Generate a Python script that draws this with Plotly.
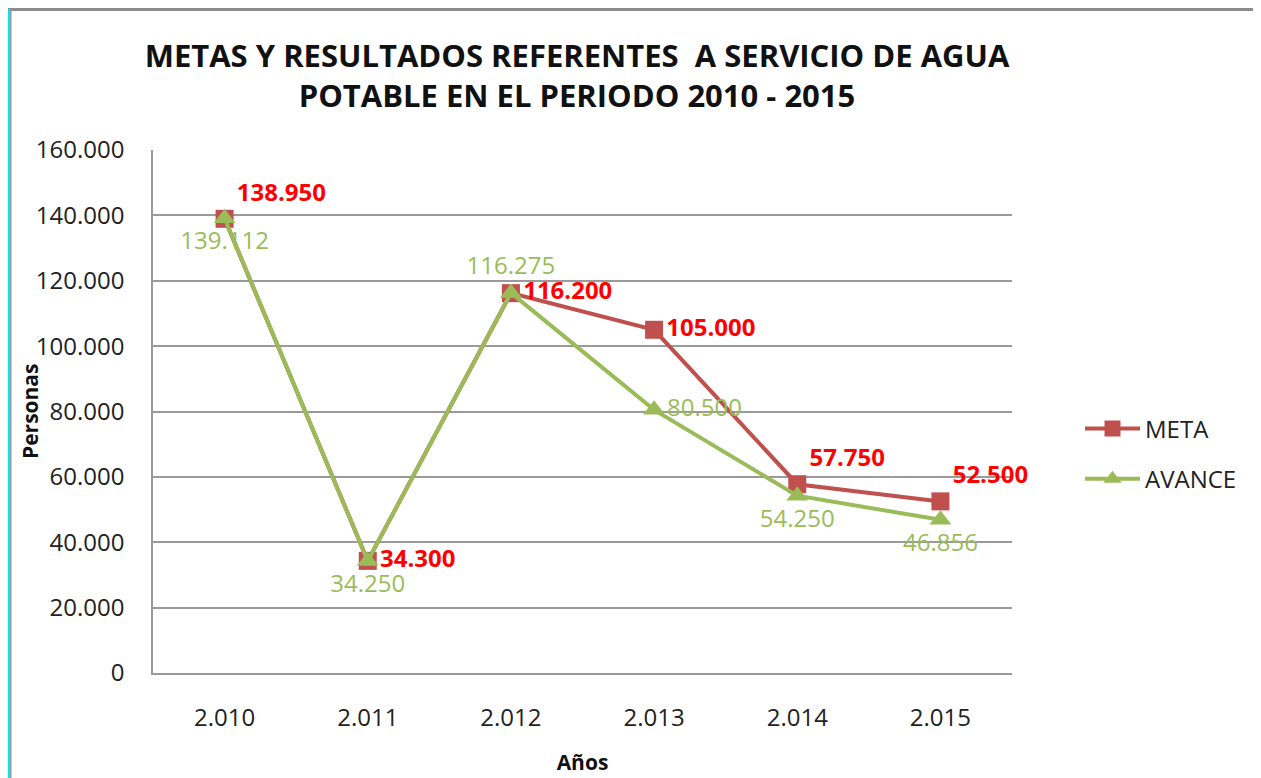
import plotly.graph_objects as go

years = ["2.010", "2.011", "2.012", "2.013", "2.014", "2.015"]
meta = [138950, 34300, 116200, 105000, 57750, 52500]
avance = [139112, 34250, 116275, 80500, 54250, 46856]
meta_labels = ["138.950", "34.300", "116.200", "105.000", "57.750", "52.500"]
avance_labels = ["139.112", "34.250", "116.275", "80.500", "54.250", "46.856"]
meta_pos = ["top right", "middle right", "middle right", "middle right", "top right", "top right"]
avance_pos = ["bottom center", "bottom center", "top center", "middle right", "bottom center", "bottom center"]

FONT = "Open Sans"
RED = "#C0504D"
GREEN = "#9BBB59"
GRID = "#9A9A9A"

# the page body has an 8px margin: work in target-screen coordinates minus O
O = 8
W, H = 1261 - O, 778 - O
L, R, T, B = 153 - O, 1012 - O, 150 - O, 673 - O
pw, ph = R - L, B - T

def fx(x):
    # figure pixel x -> paper
    return (x - L) / pw

def fy(y):
    # figure pixel y -> paper
    return (B - y) / ph

fig = go.Figure()
fig.add_trace(go.Scatter(
    x=years, y=meta, name="META", mode="lines+markers+text",
    legendgroup="a", cliponaxis=False,
    line=dict(color=RED, width=4),
    marker=dict(symbol="square", size=18, color=RED),
    text=meta_labels, textposition=meta_pos,
    textfont=dict(family=FONT, size=24, color="#FF0000", weight="bold"),
))
fig.add_trace(go.Scatter(
    x=years, y=avance, name="AVANCE", mode="lines+markers+text",
    legendgroup="b", cliponaxis=False,
    line=dict(color=GREEN, width=4),
    marker=dict(symbol="triangle-up", size=19, color=GREEN),
    text=avance_labels, textposition=avance_pos,
    textfont=dict(family=FONT, size=24, color=GREEN),
))

fig.update_layout(
    width=W, height=H,
    margin=dict(l=L, r=W - R, t=T, b=H - B, autoexpand=False),
    paper_bgcolor="white", plot_bgcolor="white",
    separators=",.",
    font=dict(family=FONT, size=24, color="#222222"),
    title=dict(
        text="METAS Y RESULTADOS REFERENTES  A SERVICIO DE AGUA<br>POTABLE EN EL PERIODO 2010 - 2015",
        x=(577 - O) / W, xanchor="center", xref="container",
        y=1 - 59 / H, yanchor="top", yref="container",
        font=dict(family=FONT, size=31, color="#111111", weight="bold"),
    ),
    xaxis=dict(
        type="category", range=[-0.5, 5.5], automargin=False,
        showgrid=False, showline=True, linecolor=GRID, linewidth=1.5,
        ticks="", ticklabelstandoff=22,
        tickfont=dict(family=FONT, size=24, color="#222222"),
        title=dict(text="<b>Años</b>", standoff=24, font=dict(family=FONT, size=21, color="#111111")),
    ),
    yaxis=dict(
        range=[0, 160000], tickvals=[0, 20000, 40000, 60000, 80000, 100000, 120000, 140000, 160000],
        tickformat=",d", automargin=False,
        showgrid=True, gridcolor=GRID, gridwidth=1.5,
        showline=True, linecolor=GRID, linewidth=1.5,
        zeroline=False, ticks="", ticklabelstandoff=22,
        tickfont=dict(family=FONT, size=24, color="#222222"),
    ),
    legend=dict(
        x=fx(1080 - O), y=fy(454 - O), xanchor="left", yanchor="middle",
        font=dict(family=FONT, size=24, color="#222222"),
        bgcolor="rgba(0,0,0,0)", traceorder="grouped", tracegroupgap=16, itemwidth=55,
    ),
    showlegend=True,
)

# y-axis title
fig.add_annotation(text="<b>Personas</b>", xref="paper", yref="paper",
                   x=fx(30 - O), y=fy(411 - O), xanchor="center", yanchor="middle",
                   textangle=-90, showarrow=False,
                   font=dict(family=FONT, size=21, color="#111111"))

# chart frame
fig.add_shape(type="line", xref="paper", yref="paper",
              x0=fx(0), x1=fx(1247), y0=fy(1.5), y1=fy(1.5),
              line=dict(color="#8C8C8C", width=3))
fig.add_shape(type="line", xref="paper", yref="paper",
              x0=fx(1247), x1=fx(1247), y0=fy(1.5), y1=fy(H + 5),
              line=dict(color="#8C8C8C", width=3))
fig.add_shape(type="line", xref="paper", yref="paper",
              x0=fx(1), x1=fx(1), y0=fy(1.5), y1=fy(H + 5),
              line=dict(color="#00E5EE", width=2))
fig.add_shape(type="line", xref="paper", yref="paper",
              x0=fx(2.8), x1=fx(2.8), y0=fy(1.5), y1=fy(H + 5),
              line=dict(color="#9A9A9A", width=1.5))

fig.write_html("out.html")
